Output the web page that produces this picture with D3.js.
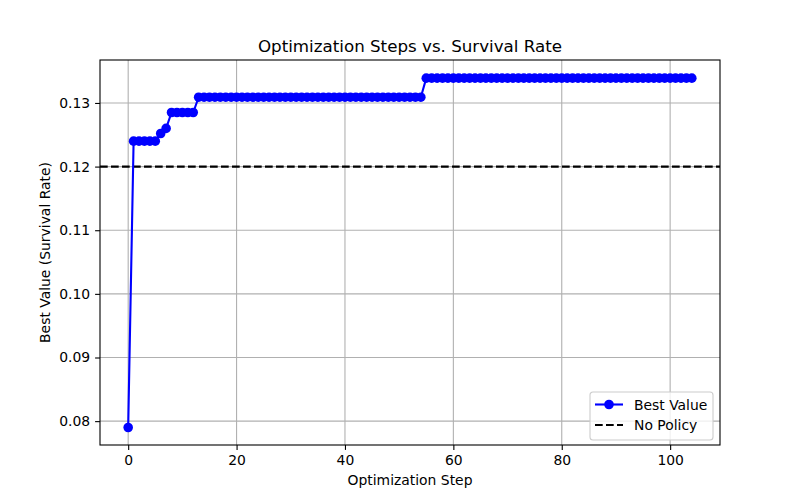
<html>
<head>
<script src="https://d3js.org/d3.v7.min.js"></script>
<style>
  body { margin: 0; background: #fff; }
  text { font-family: "DejaVu Sans", sans-serif; fill: #000; }
</style>
</head>
<body>
<svg id="MAINSVG" width="800" height="500"></svg>
<script>
// data
var steps = d3.range(0, 105);
var best_values = [0.079, 0.124, 0.124, 0.124, 0.124, 0.124, 0.1252, 0.126,
  0.1285, 0.1285, 0.1285, 0.1285, 0.1285];
while (best_values.length < 55) best_values.push(0.1309);
while (best_values.length < 105) best_values.push(0.1339);
var baseline = 0.12;
var x_ticks = [0, 20, 40, 60, 80, 100];
var y_ticks = [0.08, 0.09, 0.10, 0.11, 0.12, 0.13];
var legend_labels = ["Best Value", "No Policy"];

var SVG = d3.select("#MAINSVG");
var plot_l = 100, plot_r = 720, plot_t = 60, plot_b = 445;

var x = d3.scaleLinear().domain([-5.2, 109.2]).range([plot_l, plot_r]);
var y = d3.scaleLinear().domain([0.07625, 0.13675]).range([plot_b, plot_t]);

// grid
SVG.append("g").selectAll("line").data(x_ticks).enter().append("line")
  .attr("x1", d => x(d)).attr("x2", d => x(d))
  .attr("y1", plot_t).attr("y2", plot_b)
  .attr("stroke", "#b0b0b0").attr("stroke-width", 1.1);
SVG.append("g").selectAll("line").data(y_ticks).enter().append("line")
  .attr("x1", plot_l).attr("x2", plot_r)
  .attr("y1", d => y(d)).attr("y2", d => y(d))
  .attr("stroke", "#b0b0b0").attr("stroke-width", 1.1);

// baseline
SVG.append("line")
  .attr("x1", plot_l).attr("x2", plot_r)
  .attr("y1", y(baseline)).attr("y2", y(baseline))
  .attr("stroke", "#000").attr("stroke-width", 2.1)
  .attr("stroke-dasharray", "7.7,3.3");

// series
var pts = steps.map((s, i) => [s, best_values[i]]);
SVG.append("path")
  .datum(pts)
  .attr("d", d3.line().x(d => x(d[0])).y(d => y(d[1])))
  .attr("fill", "none").attr("stroke", "blue").attr("stroke-width", 2.1);
SVG.append("g").selectAll("circle").data(pts).enter().append("circle")
  .attr("cx", d => x(d[0])).attr("cy", d => y(d[1]))
  .attr("r", 4.8).attr("fill", "blue");

// axes
var xAxis = SVG.append("g").attr("transform", "translate(0," + plot_b + ")")
  .call(d3.axisBottom(x).tickValues(x_ticks).tickSize(4.9).tickPadding(4.9).tickFormat(d3.format("d")));
var yAxis = SVG.append("g").attr("transform", "translate(" + plot_l + ",0)")
  .call(d3.axisLeft(y).tickValues(y_ticks).tickSize(4.9).tickPadding(4.9).tickFormat(d3.format(".2f")));
[xAxis, yAxis].forEach(function(a) {
  a.select(".domain").remove();
  a.selectAll("line").attr("stroke", "#000").attr("stroke-width", 1.1);
  a.selectAll("text").style("font-size", "13.9px").style("font-family", "DejaVu Sans");
});

// frame
SVG.append("rect")
  .attr("x", plot_l).attr("y", plot_t).attr("width", plot_r - plot_l).attr("height", plot_b - plot_t)
  .attr("fill", "none").attr("stroke", "#000").attr("stroke-width", 1.1);

// texts
SVG.append("text").attr("x", (plot_l + plot_r) / 2).attr("y", 52)
  .attr("text-anchor", "middle").style("font-size", "16.7px")
  .text("Optimization Steps vs. Survival Rate");
SVG.append("text").attr("x", (plot_l + plot_r) / 2).attr("y", 485)
  .attr("text-anchor", "middle").style("font-size", "13.9px")
  .text("Optimization Step");
SVG.append("text")
  .attr("transform", "translate(50," + ((plot_t + plot_b) / 2) + ") rotate(-90)")
  .attr("text-anchor", "middle").style("font-size", "13.9px")
  .text("Best Value (Survival Rate)");

// legend
var lg = SVG.append("g").attr("transform", "translate(590,392)");
lg.append("rect").attr("width", 123).attr("height", 48).attr("rx", 3)
  .attr("fill", "#fff").attr("fill-opacity", 0.8)
  .attr("stroke", "#cccccc").attr("stroke-width", 1.1);
lg.append("line").attr("x1", 5).attr("x2", 33).attr("y1", 12.5).attr("y2", 12.5)
  .attr("stroke", "blue").attr("stroke-width", 2.1);
lg.append("circle").attr("cx", 19).attr("cy", 12.5).attr("r", 4.8).attr("fill", "blue");
lg.append("line").attr("x1", 5).attr("x2", 33).attr("y1", 33).attr("y2", 33)
  .attr("stroke", "#000").attr("stroke-width", 2.1).attr("stroke-dasharray", "7.7,3.3");
lg.selectAll("text.lab").data(legend_labels).enter().append("text")
  .attr("x", 44).attr("y", (d, i) => 17.5 + i * 20.5)
  .style("font-size", "13.9px").text(d => d);
</script>
</body>
</html>
